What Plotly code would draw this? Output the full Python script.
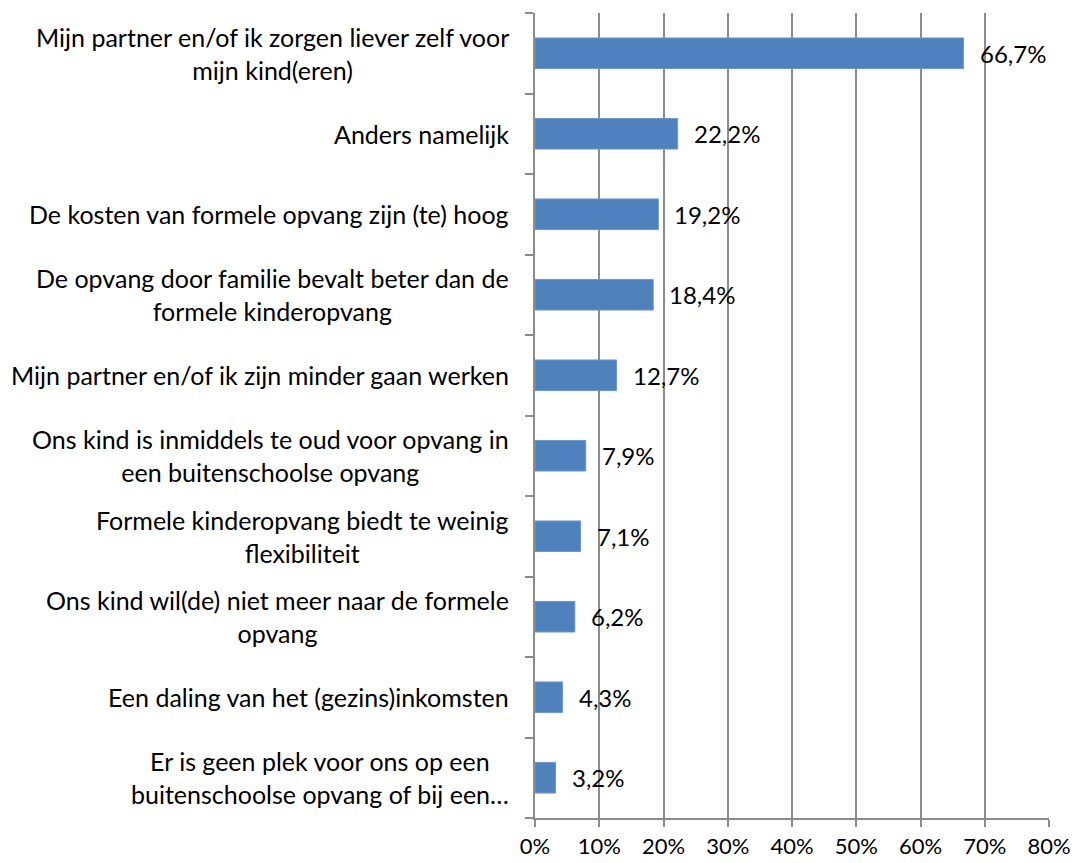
import plotly.graph_objects as go

# reasons, top to bottom
reasons = [
    "Mijn partner en/of ik zorgen liever zelf voor<br>mijn kind(eren)",
    "Anders namelijk",
    "De kosten van formele opvang zijn (te) hoog",
    "De opvang door familie bevalt beter dan de<br>formele kinderopvang",
    "Mijn partner en/of ik zijn minder gaan werken",
    "Ons kind is inmiddels te oud voor opvang in<br>een buitenschoolse opvang",
    "Formele kinderopvang biedt te weinig<br>flexibiliteit",
    "Ons kind wil(de) niet meer naar de formele<br>opvang",
    "Een daling van het (gezins)inkomsten",
    "Er is geen plek voor ons op een<br>buitenschoolse opvang of bij een…",
]
percent = [66.7, 22.2, 19.2, 18.4, 12.7, 7.9, 7.1, 6.2, 4.3, 3.2]
x_ticks = [0, 10, 20, 30, 40, 50, 60, 70, 80]

FONT = "Lato"
GRID = "#8c8c8c"

fig = go.Figure(go.Bar(
    x=percent,
    y=list(range(len(reasons))),
    orientation="h",
    marker=dict(color="#4f81bd", line=dict(color="#6d97cc", width=1)),
    hoverinfo="x",
))

# category labels: lines centred, block right-aligned left of the axis
for i, label in enumerate(reasons):
    fig.add_annotation(
        x=0, xref="paper", y=i, yref="y",
        text=label, showarrow=False,
        xanchor="right", align="center",
        xshift=-24,
        font=dict(family=FONT, size=25, color="black"),
    )

# value labels
for i, v in enumerate(percent):
    fig.add_annotation(
        x=v, xref="x", y=i, yref="y",
        text=f"{v:.1f}%".replace(".", ","), showarrow=False,
        xanchor="left", xshift=14,
        font=dict(family=FONT, size=24, color="black"),
    )

# page body has an 8px margin, so the figure is a bit smaller than the window
fig.update_layout(
    width=1081, height=855,
    margin=dict(l=527, r=40, t=5, b=45),
    paper_bgcolor="white", plot_bgcolor="white",
    bargap=0.62,
    showlegend=False,
    font=dict(family=FONT, size=23, color="black"),
)
fig.update_xaxes(
    range=[0, 80],
    tickvals=x_ticks,
    ticktext=[f"{t}%" for t in x_ticks],
    showgrid=True, gridcolor=GRID, gridwidth=2,
    showline=True, linecolor=GRID, linewidth=2,
    ticks="outside", ticklen=7, tickcolor=GRID, tickwidth=2,
    tickfont=dict(size=22),
    ticklabelstandoff=1, automargin=False,
    zeroline=False,
)
fig.update_yaxes(
    range=[len(reasons) - 0.5, -0.5],
    tickvals=[i - 0.5 for i in range(len(reasons) + 1)],
    showticklabels=False,
    showgrid=False, zeroline=False,
    showline=True, linecolor=GRID, linewidth=2,
    ticks="outside", ticklen=8, tickcolor=GRID, tickwidth=2,
)

fig.write_html("out.html")
